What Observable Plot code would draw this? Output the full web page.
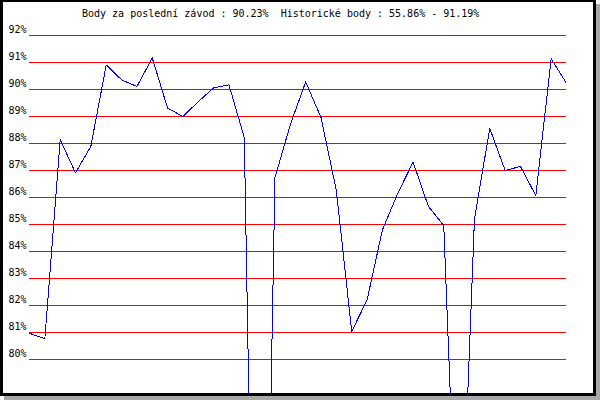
<!DOCTYPE html>
<html>
<head>
<meta charset="utf-8">
<script src="https://cdn.jsdelivr.net/npm/d3@7"></script>
<script src="https://cdn.jsdelivr.net/npm/@observablehq/plot@0.6"></script>
<style>
  html, body { margin: 0; padding: 0; width: 600px; height: 400px; overflow: hidden; background: white; }
  #frame {
    position: absolute; left: 0; top: 0;
    width: 590px; height: 391px;
    border-style: solid; border-color: black;
    border-width: 2px 3px 3px 3px;
    background: white;
    box-shadow: 4px 4px 0 0 #a8a8a8;
  }
  #chart { position: absolute; left: 0; top: 0; }
  #title {
    position: absolute; left: 82px; top: 8px;
    font-family: "DejaVu Sans Mono", monospace; font-size: 10px; line-height: 12px;
    white-space: pre; color: black;
  }
</style>
</head>
<body>
<div id="frame"></div>
<div id="chart"></div>
<div id="title"></div>
<script>
const titleText = "Body za poslední závod : 90.23%  Historické body : 55.86% - 91.19%";
const yTicks = [80, 81, 82, 83, 84, 85, 86, 87, 88, 89, 90, 91, 92];
const points = [80.97, 80.77, 88.14, 86.91, 87.9, 90.91, 90.36, 90.11, 91.17, 89.31,
                89.0, 89.55, 90.06, 90.17, 88.22, 55.86, 86.74, 88.7, 90.28, 88.96,
                86.26, 81.04, 82.2, 84.8, 86.15, 87.31, 85.67, 84.96, 70.3, 85.2,
                88.56, 87.0, 87.15, 86.07, 91.14, 90.23];
const races = points.map((v, i) => i);

document.getElementById("title").textContent = titleText;

const data = races.map((r, i) => ({race: r, value: points[i]}));

const chart = Plot.plot({
  width: 600,
  height: 400,
  marginLeft: 29,
  marginRight: 34,
  marginTop: 35,
  marginBottom: 7,
  style: {background: "transparent", fontFamily: "DejaVu Sans Mono, monospace", fontSize: "10px", color: "black"},
  x: {domain: [0, races.length - 1], axis: null},
  y: {domain: [92 - (393 - 35) / 27, 92], axis: null},
  marks: [
    Plot.ruleY(yTicks, {stroke: "red", strokeWidth: 1, shapeRendering: "crispEdges"}),
    Plot.axisY(yTicks, {
      tickSize: 0, tickPadding: 3, tickFormat: d => d + "%",
      textAnchor: "end", dy: -6, fontSize: 10, fill: "black", label: null
    }),
    Plot.line(data, {x: "race", y: "value", stroke: "#0000ff", strokeWidth: 1, clip: true, shapeRendering: "crispEdges"})
  ]
});
document.getElementById("chart").appendChild(chart);
</script>
</body>
</html>
